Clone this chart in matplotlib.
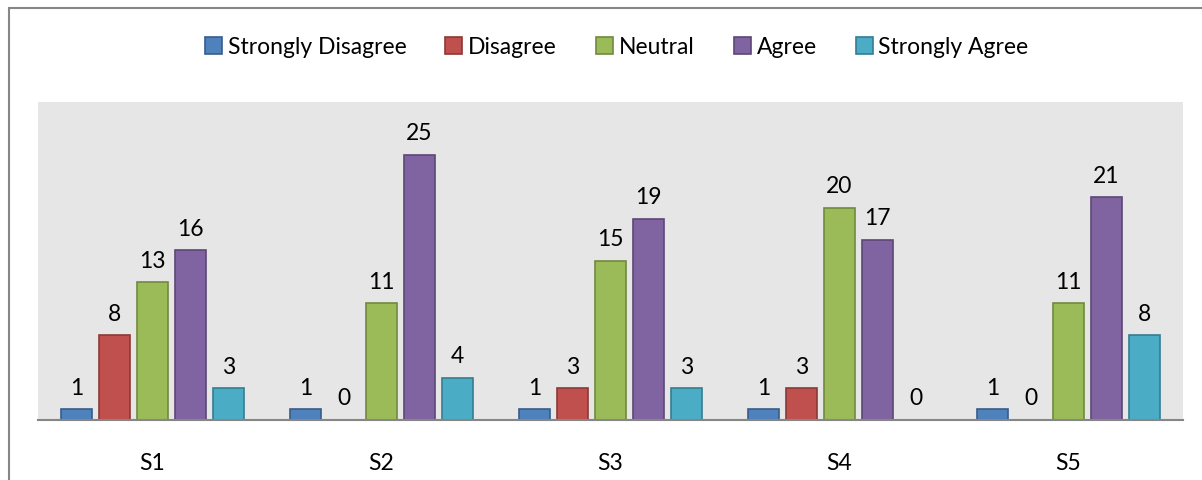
import numpy as np
import matplotlib.pyplot as plt
from matplotlib.patches import Rectangle

plt.rcParams['font.family'] = ['Lato', 'DejaVu Sans']

groups = ['S1', 'S2', 'S3', 'S4', 'S5']
series = ['Strongly Disagree', 'Disagree', 'Neutral', 'Agree', 'Strongly Agree']
strongly_disagree = [1, 1, 1, 1, 1]
disagree = [8, 0, 3, 3, 0]
neutral = [13, 11, 15, 20, 11]
agree = [16, 25, 19, 17, 21]
strongly_agree = [3, 4, 3, 0, 8]
values = [strongly_disagree, disagree, neutral, agree, strongly_agree]

fills = ['#4F81BD', '#C0504D', '#9BBB59', '#8064A2', '#4BACC6']
edges = ['#385D8A', '#8C3836', '#71893F', '#5C4776', '#357D91']

fig = plt.figure(figsize=(12.02, 4.8), dpi=100)
# outer chart border (cropped on the right and bottom)
fig.patches.append(Rectangle((9 / 1202, -0.1), 1.2, 1 - 8 / 480 + 0.1,
                             transform=fig.transFigure, fill=False,
                             edgecolor='#868686', lw=1.5))

ax = fig.add_axes([38 / 1202, 1 - 420 / 480, (1183 - 38) / 1202, (420 - 102) / 480])
ax.set_facecolor('#E6E6E6')

x = np.arange(len(groups))
step = 0.166
w = 0.136
for i, (name, vals) in enumerate(zip(series, values)):
    pos = x + (i - 2) * step
    ax.bar(pos, vals, w, color=fills[i], edgecolor=edges[i], lw=1.2, label=name)
    for p, v in zip(pos, vals):
        ax.text(p, v + 1.0, str(v), ha='center', va='bottom', fontsize=16.5)

ax.set_xlim(-0.5, 4.5)
ax.set_ylim(0, 30)
ax.set_yticks([])
ax.set_xticks(x)
ax.set_xticklabels(groups, fontsize=16.5)
ax.tick_params(axis='x', length=0, pad=24)
for s in ['top', 'right', 'left']:
    ax.spines[s].set_visible(False)
ax.spines['bottom'].set_color('#868686')
ax.spines['bottom'].set_linewidth(1.5)

fig.legend(loc='center', bbox_to_anchor=(0.513, 1 - 47 / 480), ncol=5, frameon=False,
           fontsize=16.5, handlelength=0.75, handleheight=0.75, handletextpad=0.25,
           columnspacing=1.7)

plt.savefig('out.png')
